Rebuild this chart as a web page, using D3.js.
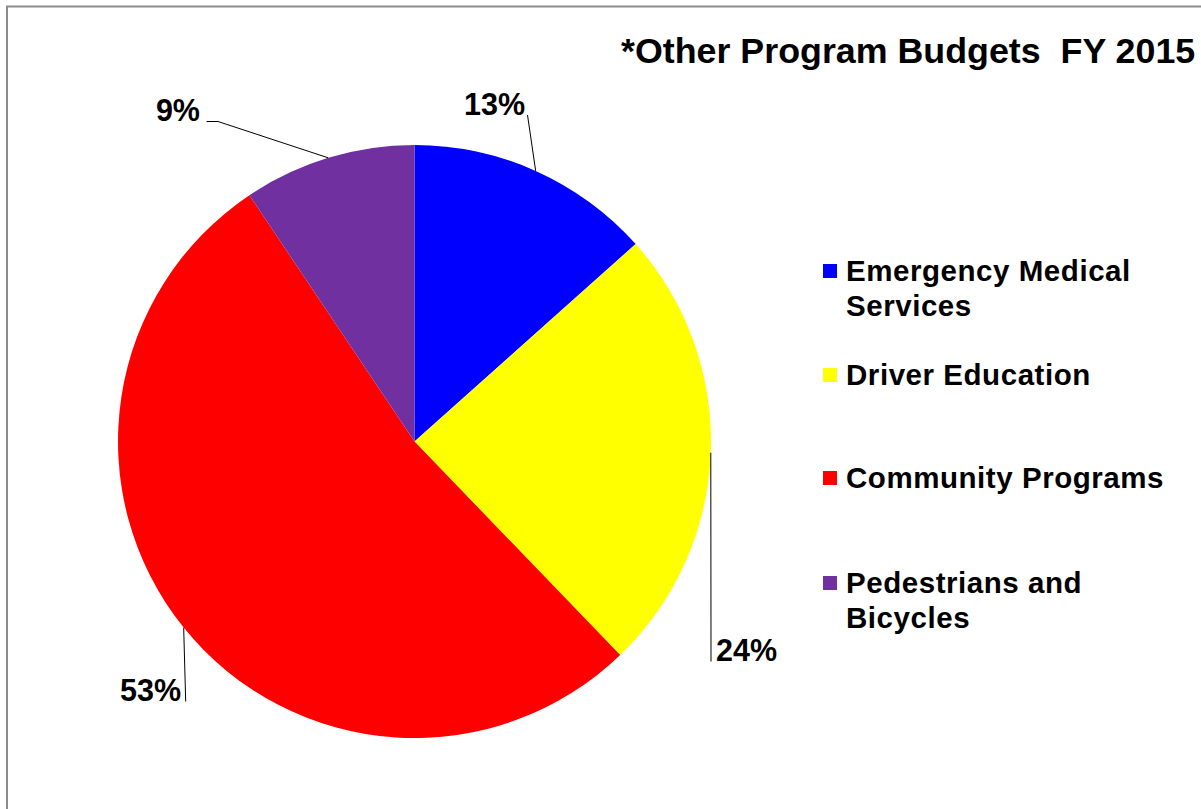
<!DOCTYPE html>
<html>
<head>
<meta charset="utf-8">
<script src="https://cdn.jsdelivr.net/npm/d3@7"></script>
<style>
  html, body { margin: 0; padding: 0; background: #fff; }
  svg { display: block; font-family: "Liberation Sans", Arial, sans-serif; }
</style>
</head>
<body>
<svg id="chart" width="1201" height="809"></svg>
<script>
// ---- data ----
const categories = ["Emergency Medical Services", "Driver Education", "Community Programs", "Pedestrians and Bicycles"];
const values = [13.4, 24.4, 52.8, 9.4];
const colors = ["#0000FF", "#FFFF00", "#FF0000", "#7030A0"];
const legendLines = [["Emergency Medical", "Services"], ["Driver Education"], ["Community Programs"], ["Pedestrians and", "Bicycles"]];
const titleText = "*Other Program Budgets  FY 2015";

// ---- layout ----
const W = 1201, H = 809;
const cx = 414.5, cy = 441.5, R = 296.5;
// label layout: leader end point and text anchor per slice
const labelLayout = [
  { pts: [[527.5, 115]], tx: 525, ty: 115, anchor: "end" },
  { pts: [[711, 661.5]], tx: 716, ty: 661, anchor: "start" },
  { pts: [[185.7, 701.5]], tx: 181, ty: 701, anchor: "end" },
  { pts: [[218, 121.5], [206.5, 121.5]], tx: 200, ty: 121, anchor: "end" }
];

const svg = d3.select("#chart");

// border (left & top)
svg.append("path")
  .attr("d", `M7,${H} V6.5 H${W}`)
  .attr("fill", "none")
  .attr("stroke", "#8c8c8c")
  .attr("stroke-width", 2);

// title
svg.append("text")
  .attr("x", 621).attr("y", 63)
  .attr("font-size", 35.8)
  .attr("font-weight", "bold")
  .style("white-space", "pre")
  .text(titleText);

// pie
const total = d3.sum(values);
const pie = d3.pie().sort(null).value(d => d)(values);
const arc = d3.arc().innerRadius(0).outerRadius(R);
const g = svg.append("g").attr("transform", `translate(${cx},${cy})`);
g.selectAll("path.slice").data(pie).join("path")
  .attr("class", "slice")
  .attr("d", arc)
  .attr("fill", (d, i) => colors[i]);

// leader lines + labels
const fmt = d3.format(".0%");
pie.forEach((d, i) => {
  const a = (d.startAngle + d.endAngle) / 2;
  const ex = cx + R * Math.sin(a), ey = cy - R * Math.cos(a);
  const L = labelLayout[i];
  const pts = [[ex, ey], ...L.pts];
  svg.append("path")
    .attr("d", d3.line()(pts))
    .attr("fill", "none")
    .attr("stroke", "#000")
    .attr("stroke-width", 1);
  svg.append("text")
    .attr("x", L.tx).attr("y", L.ty)
    .attr("text-anchor", L.anchor)
    .attr("font-size", 30.5)
    .attr("font-weight", "bold")
    .text(fmt(d.data / total));
});

// legend
const legendX = 823, legendTextX = 846;
const legendBaselines = [281, 385, 488, 593];
const lineGap = 35;
categories.forEach((c, i) => {
  const by = legendBaselines[i];
  svg.append("rect")
    .attr("x", legendX).attr("y", by - 17)
    .attr("width", 14).attr("height", 14)
    .attr("fill", colors[i]);
  const t = svg.append("text")
    .attr("x", legendTextX).attr("y", by)
    .attr("font-size", 29.5)
    .attr("font-weight", "bold")
    .attr("letter-spacing", 0.55);
  legendLines[i].forEach((ln, j) => {
    t.append("tspan").attr("x", legendTextX).attr("y", by + j * lineGap).text(ln);
  });
});
</script>
</body>
</html>
